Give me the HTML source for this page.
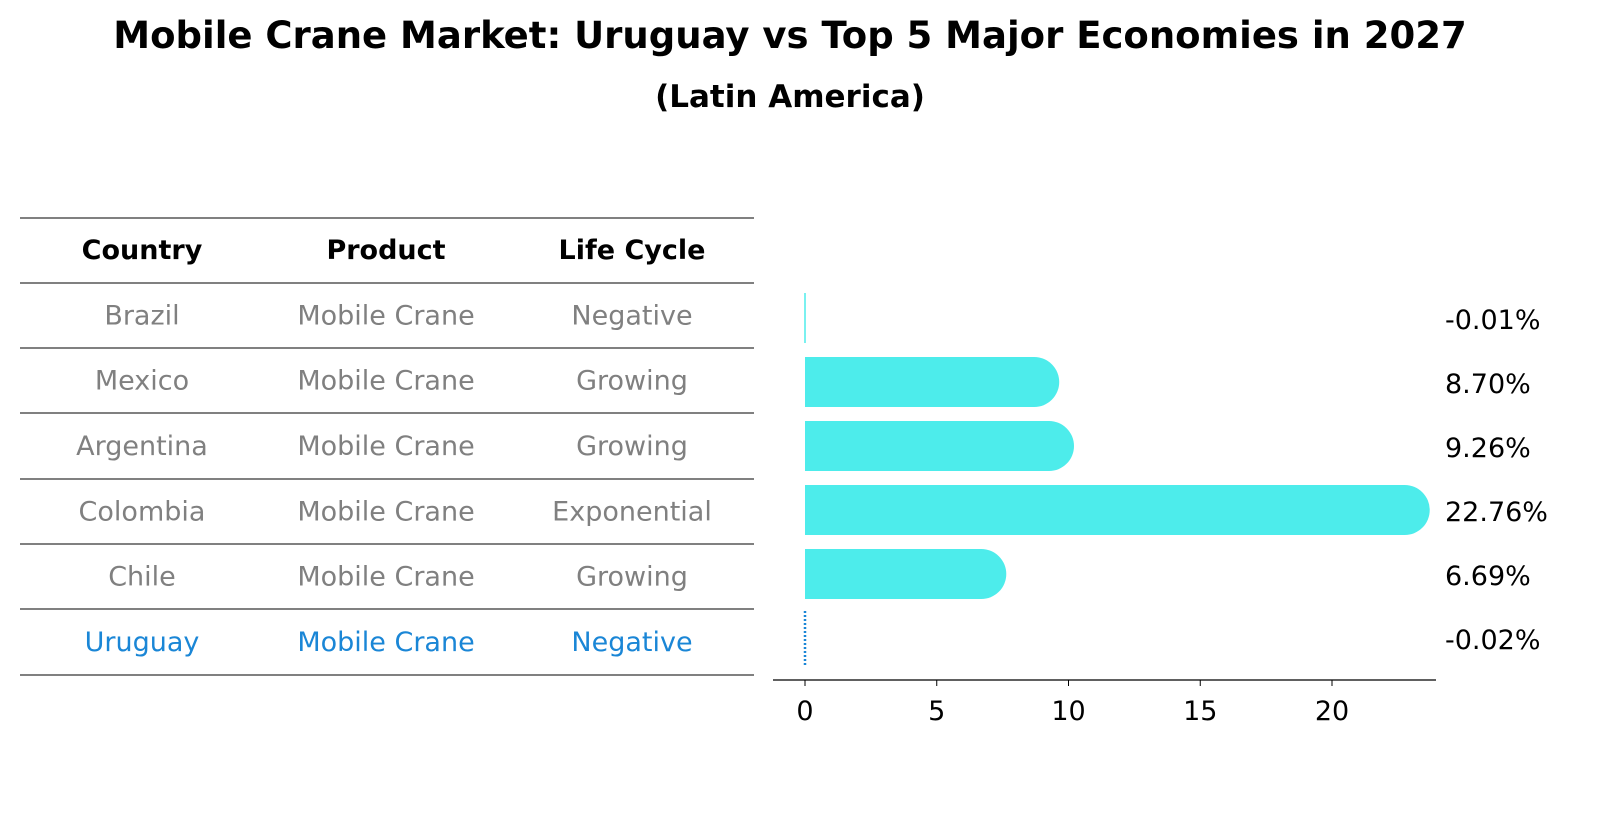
<!DOCTYPE html>
<html><head><meta charset="utf-8"><style>
body{margin:0;background:#fff;font-family:"Liberation Sans","DejaVu Sans",sans-serif;}
#wrap{position:relative;width:1604px;height:823px;overflow:hidden;}
</style></head><body>
<div id="wrap">
<svg id="svg" width="1604" height="823" xmlns="http://www.w3.org/2000/svg" font-family="DejaVu Sans, Liberation Sans, sans-serif">
<text x="790" y="48" text-anchor="middle" font-size="37" font-weight="bold">Mobile Crane Market: Uruguay vs Top 5 Major Economies in 2027</text>
<text x="790" y="107" text-anchor="middle" font-size="31" font-weight="bold">(Latin America)</text>
<g id="table"></g>
<g id="bars"></g>
</svg>
</div>
<script>
const countries=["Brazil","Mexico","Argentina","Colombia","Chile","Uruguay"];
const products=["Mobile Crane","Mobile Crane","Mobile Crane","Mobile Crane","Mobile Crane","Mobile Crane"];
const lifecycles=["Negative","Growing","Growing","Exponential","Growing","Negative"];
const values=[-0.01,8.70,9.26,22.76,6.69,-0.02];
const valueLabels=["-0.01%","8.70%","9.26%","22.76%","6.69%","-0.02%"];
const xTicks=[0,5,10,15,20];
const NS="http://www.w3.org/2000/svg";
function mk(tag,attrs,parent){const e=document.createElementNS(NS,tag);for(const k in attrs)e.setAttribute(k,attrs[k]);parent.appendChild(e);return e;}
const table=document.getElementById('table'), bars=document.getElementById('bars');
const colX=[142,386,632];
const lineYs=[218,283,348,413,479,544,609,675];
for(const y of lineYs){const l=mk('line',{x1:20,x2:754,y1:y,y2:y,stroke:'#000','stroke-width':1},table);

}
["Country","Product","Life Cycle"].forEach((h,i)=>{const t=mk('text',{x:colX[i],y:259,'text-anchor':'middle','font-size':27,'font-weight':'bold'},table);t.textContent=h;

});
const rowY=i=>(lineYs[i+1]+lineYs[i+2])/2;
countries.forEach((c,i)=>{const col=i===countries.length-1?'#1a86d6':'#808080';
[c,products[i],lifecycles[i]].forEach((v,j)=>{const t=mk('text',{x:colX[j],y:rowY(i)+9,'text-anchor':'middle','font-size':27,fill:col},table);t.textContent=v;

});});
const x0=805,pxPer=(1332-805)/20;
const xs=v=>x0+v*pxPer;
const barY=i=>318+i*64;
const bh=50;
values.forEach((v,i)=>{const cy=barY(i);
if(i===values.length-1){const l=mk('line',{x1:805,x2:805,y1:cy-27,y2:cy+27,stroke:'#1a86d6','stroke-width':2.5,'stroke-dasharray':'2,2'},bars);

}
else if(Math.abs(v)<0.5){const l=mk('line',{x1:805,x2:805,y1:cy-25,y2:cy+25,stroke:'#4deceb','stroke-width':1.5},bars);

}
else{const xe=xs(v);const p=mk('path',{d:`M${x0},${cy-bh/2} L${xe},${cy-bh/2} A${bh/2},${bh/2} 0 0 1 ${xe},${cy+bh/2} L${x0},${cy+bh/2} Z`,fill:'#4deceb'},bars);

}
const t=mk('text',{x:1445,y:cy+11,'font-size':27},bars);t.textContent=valueLabels[i];

});
const ax=mk('line',{x1:773,x2:1436,y1:680,y2:680,stroke:'#000','stroke-width':1.2},bars);


xTicks.forEach(v=>{const tk=mk('line',{x1:xs(v),x2:xs(v),y1:680,y2:686,stroke:'#000','stroke-width':1},bars);


const t=mk('text',{x:xs(v),y:720,'text-anchor':'middle','font-size':27},bars);t.textContent=v;

});
</script>
</body></html>
